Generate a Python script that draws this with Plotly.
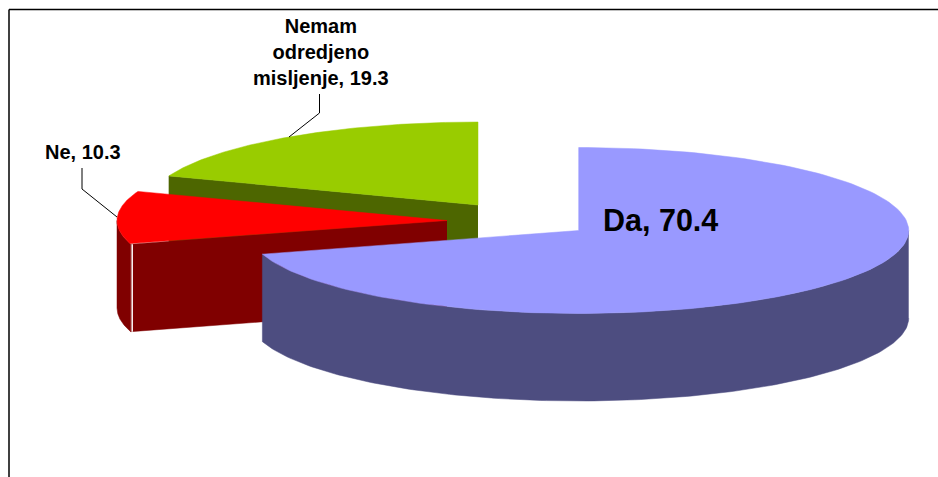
import numpy as np
import plotly.graph_objects as go

categories = ["Da", "Ne", "Nemam<br>odredjeno<br>misljenje"]
values = [70.4, 10.3, 19.3]
top_colors = ["#9999FF", "#FF0000", "#99CC00"]
side_colors = ["#4D4D80", "#800000", "#4D6600"]

# geometry of the tilted pie, in pixels of the 938x477 canvas
RX, RY, DEPTH = 330, 83, 87.5
apexes = [(578.7, 230.5), (447, 220.5), (478, 205)]

ends = np.cumsum(values) / sum(values) * 360
starts = np.concatenate([[0], ends[:-1]])


def rim(apex, a, b, drop=0.0, n=160):
    t = np.radians(np.linspace(a, b, n))
    return apex[0] + RX * np.sin(t), apex[1] - RY * np.cos(t) + drop


def poly(fig, x, y, color):
    fig.add_trace(go.Scatter(
        x=list(x), y=list(y), mode="lines", fill="toself", fillcolor=color,
        line=dict(color=color, width=0.5), hoverinfo="skip", showlegend=False,
    ))


fig = go.Figure()

# back to front: green, red, blue
for i in (2, 1, 0):
    ax, ay = apexes[i]
    a, b = starts[i], ends[i]
    if i in (1, 2):
        rx_, ry_ = rim(apexes[i], a, a, n=1)
        if i == 2:
            rx_, ry_ = rim(apexes[i], a, a, n=1)
        poly(fig, [ax, rx_[0], rx_[0], ax], [ay, ry_[0], ry_[0] + DEPTH, ay + DEPTH], side_colors[i])
    if i == 1:
        # outer wall on the left
        ux, uy = rim(apexes[i], a, 270)
        poly(fig, np.concatenate([ux, ux[::-1]]), np.concatenate([uy, uy[::-1] + DEPTH]), side_colors[i])
        # thin white seam between wall and cut face
        fig.add_trace(go.Scatter(
            x=[rx_[0] + 1.5, rx_[0] + 1.5], y=[ry_[0], ry_[0] + DEPTH], mode="lines",
            line=dict(color="#FFFFFF", width=1.5), hoverinfo="skip", showlegend=False,
        ))
    if i == 0:
        ux, uy = rim(apexes[i], 90, b)
        poly(fig, np.concatenate([ux, ux[::-1]]), np.concatenate([uy, uy[::-1] + DEPTH]), side_colors[i])
    # top face
    tx, ty = rim(apexes[i], a, b)
    poly(fig, np.concatenate([[ax], tx, [ax]]), np.concatenate([[ay], ty, [ay]]), top_colors[i])

# leader lines
leaders = [([289, 319.5, 319.5], [137, 113, 94]), ([117, 82, 82], [217, 189, 168])]
for lx, ly in leaders:
    fig.add_trace(go.Scatter(
        x=lx, y=ly, mode="lines", line=dict(color="#000000", width=1),
        hoverinfo="skip", showlegend=False,
    ))

label_pos = [(660, 219.5, 30.5), (82.5, 152, 20), (320.5, 52, 20)]
for c, v, (x, y, s) in zip(categories, values, label_pos):
    fig.add_annotation(
        x=x, y=y, text=f"<b>{c}, {v}</b>", showarrow=False,
        font=dict(family="Liberation Sans", size=s, color="#000000"),
        align="center", xanchor="center", yanchor="middle",
    )

# chart frame
fig.add_shape(type="line", x0=9, x1=938, y0=9.5, y1=9.5, line=dict(color="#000000", width=1.5))
fig.add_shape(type="line", x0=9, x1=9, y0=9.5, y1=477, line=dict(color="#000000", width=1.5))

fig.update_layout(
    width=938, height=477, margin=dict(l=0, r=0, t=0, b=0),
    paper_bgcolor="#FFFFFF", plot_bgcolor="#FFFFFF", showlegend=False,
    xaxis=dict(range=[0, 938], visible=False, fixedrange=True),
    yaxis=dict(range=[477, 0], visible=False, fixedrange=True),
)

fig.write_html("out.html", config={"displayModeBar": False},
               post_script="document.body.style.margin='0';document.body.style.overflow='hidden';")
